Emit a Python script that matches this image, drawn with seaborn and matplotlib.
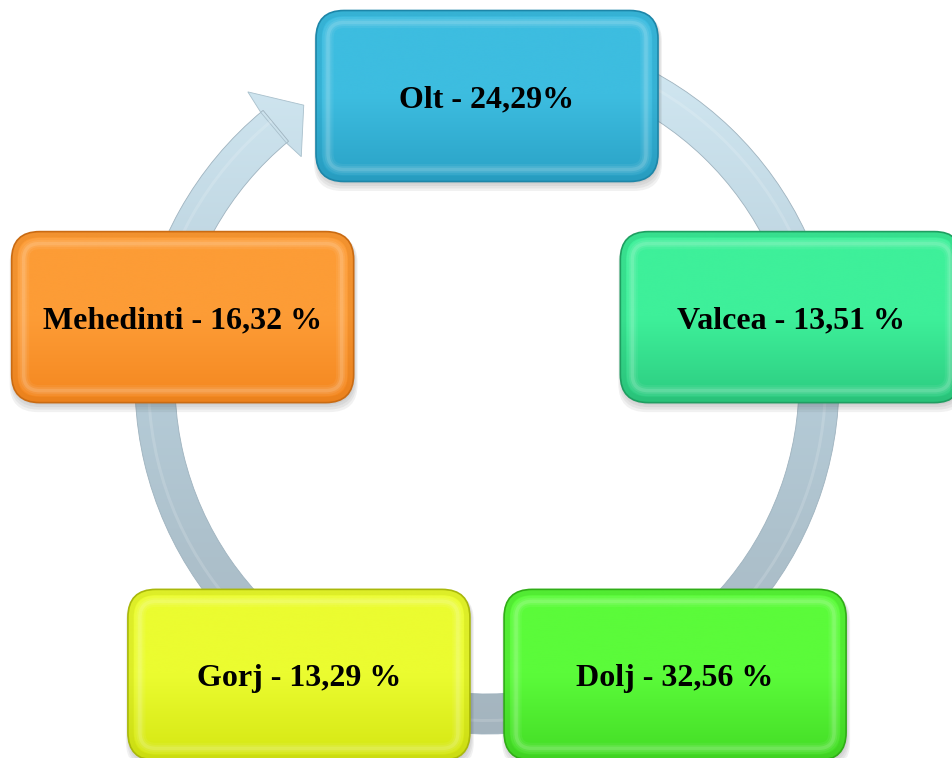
import numpy as np
import matplotlib.pyplot as plt
import seaborn as sns
from matplotlib.colors import LinearSegmentedColormap
from matplotlib.patches import FancyBboxPatch, Wedge, Polygon

# cycle nodes (clockwise from the top)
counties = ["Olt", "Valcea", "Dolj", "Gorj", "Mehedinti"]
shares = [24.29, 13.51, 32.56, 13.29, 16.32]
pct_gap = ["", " ", " ", " ", " "]
top_colors = ["#3dbde0", "#3ef09a", "#5bfb3a", "#ebfc30", "#fd9c36"]
bottom_colors = ["#2aa2c6", "#2ccb80", "#43dc25", "#d4e612", "#f4871f"]
edge_colors = ["#1d86a8", "#1f9e61", "#30ad17", "#a9b80b", "#c96b13"]

W, H = 952, 758
sns.set_theme(style="white")
plt.rcParams["font.family"] = ["Liberation Serif", "DejaVu Serif"]

fig = plt.figure(figsize=(W / 100, H / 100), dpi=100)
ax = fig.add_axes([0, 0, 1, 1])
ax.set_xlim(0, W)
ax.set_ylim(0, H)
ax.axis("off")


def gradient(patch, colors, x0, x1, y0, y1, z):
    cmap = LinearSegmentedColormap.from_list("g", colors)
    # keep the image inside the canvas, the clip path does the rest
    x0c, x1c = max(x0, 0), min(x1, W)
    y0c, y1c = max(y0, 0), min(y1, H)
    lo = (y0c - y0) / (y1 - y0)
    hi = (y1c - y0) / (y1 - y0)
    grad = np.linspace(lo, hi, 256).reshape(-1, 1)
    im = ax.imshow(grad, cmap=cmap, vmin=0, vmax=1, extent=(x0c, x1c, y0c, y1c),
                   origin="lower", aspect="auto", interpolation="bicubic", zorder=z)
    im.set_clip_path(patch)


def polar(c, r, a):
    t = np.radians(a)
    return (c[0] + r * np.cos(t), c[1] + r * np.sin(t))


def rounded(x0, y0, w, h, r, **kw):
    # rounded rectangle as a polygon, cut to the canvas
    fb = FancyBboxPatch((x0, y0), w, h, boxstyle=f"round,pad=0,rounding_size={r}")
    pts = np.vstack(fb.get_path().to_polygons())
    pts[:, 0] = np.clip(pts[:, 0], -1, W + 1)
    pts[:, 1] = np.clip(pts[:, 1], -1, H + 1)
    return Polygon(pts, closed=True, **kw)


# the circular arrow behind the boxes
ring_c = (487, H - 382)
r_out, r_w = 352, 40
head_base, head_tip = 129.5, 123.5
ring_cols = ["#a4b4be", "#b6cdd9", "#d6ecf6"]

ring = Wedge(ring_c, r_out, head_base, 470, width=r_w, facecolor="none",
             edgecolor="#9fb3bf", lw=0.6, zorder=1)
ax.add_patch(ring)
gradient(ring, ring_cols, ring_c[0] - r_out, ring_c[0] + r_out,
         ring_c[1] - r_out, ring_c[1] + r_out + 30, 0.9)
stripe = Wedge(ring_c, r_out - 12, head_base, 470, width=3, facecolor="white",
               edgecolor="none", alpha=0.15, zorder=1.1)
ax.add_patch(stripe)

head = Polygon([polar(ring_c, r_out, head_base + 0.5), polar(ring_c, r_out + 24, head_base),
                polar(ring_c, r_out - r_w / 2, head_tip), polar(ring_c, r_out - r_w - 20, head_base),
                polar(ring_c, r_out - r_w, head_base + 0.5)],
               closed=True, facecolor="none", edgecolor="#a9c0cc", lw=0.6, zorder=1)
ax.add_patch(head)
gradient(head, ring_cols, ring_c[0] - r_out, ring_c[0] + r_out,
         ring_c[1] - r_out, ring_c[1] + r_out + 30, 0.9)

# boxes
node_c = (487, H - 416)
node_r = 320
angles = [90, 18, -54, -126, 162]
bw, bh, rs = 342, 171, 28

for name, val, gap, a, ct, cb, ce in zip(counties, shares, pct_gap, angles,
                                         top_colors, bottom_colors, edge_colors):
    cx, cy = polar(node_c, node_r, a)
    x0, y0 = cx - bw / 2, cy - bh / 2
    for k in range(4):
        sh = rounded(x0 + 1 - k, y0 - 2 - k * 2.5, bw + 2 * k, bh + 2 * k, rs,
                     facecolor="#404040", edgecolor="none", alpha=0.07, zorder=2)
        ax.add_patch(sh)
    box = rounded(x0, y0, bw, bh, rs, facecolor="none", edgecolor=ce, lw=1.2, zorder=3.1)
    ax.add_patch(box)
    gradient(box, [cb, ct, ct], x0, x0 + bw, y0, y0 + bh, 3)
    # soft bevel highlight just inside the edge
    for lw, al in [(8, 0.06), (5, 0.08), (2.5, 0.12)]:
        bevel = rounded(x0 + 12, y0 + 12, bw - 24, bh - 24, rs - 12,
                        facecolor="none", edgecolor="white", lw=lw, alpha=al, zorder=3.2)
        ax.add_patch(bevel)
    rim = rounded(x0 + 3, y0 + 3, bw - 6, bh - 6, rs - 3,
                  facecolor="none", edgecolor=ce, lw=4, alpha=0.2, zorder=3.15)
    ax.add_patch(rim)
    label = f"{name} - {val:.2f}".replace(".", ",") + gap + "%"
    ax.text(cx, cy - 11, label, ha="center", va="baseline", fontsize=23,
            fontweight="bold", color="black", zorder=5)

ax.set_xlim(0, W)
ax.set_ylim(0, H)
plt.savefig("out.png", dpi=100)
